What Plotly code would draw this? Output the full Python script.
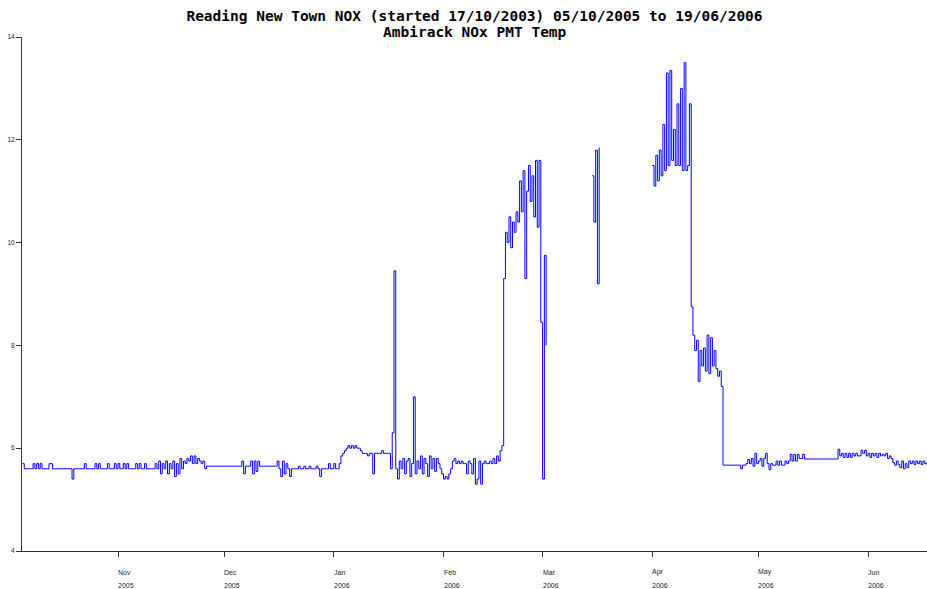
import pandas as pd
import plotly.graph_objects as go

# ---- data: readings every 12 hours, one list per month ----
oct_start = "2005-10-05"
oct_vals = [5.7,5.6, 5.6,5.6, 5.6,5.6, 5.7,5.6, 5.7,5.6, 5.7,5.6, 5.6,5.6, 5.6,5.7, 5.7,5.6,
            5.6,5.6, 5.6,5.6, 5.6,5.6, 5.6,5.6, 5.6,5.6, 5.4,5.6, 5.6,5.6, 5.6,5.6, 5.6,5.7,
            5.6,5.6, 5.6,5.6, 5.6,5.7, 5.6,5.7, 5.6,5.6, 5.6,5.6, 5.7,5.6, 5.6,5.6, 5.7,5.6]
nov_start = "2005-11-01"
nov_vals = [5.7,5.6, 5.6,5.7, 5.6,5.7, 5.6,5.6, 5.6,5.6, 5.7,5.6, 5.7,5.6, 5.6,5.7, 5.6,5.6,
            5.6,5.6, 5.6,5.7, 5.6,5.75, 5.5,5.7, 5.6,5.75, 5.5,5.7, 5.6,5.75, 5.45,5.7, 5.5,5.8,
            5.6,5.75, 5.7,5.8, 5.75,5.85, 5.7,5.85, 5.7,5.8, 5.75,5.7, 5.75,5.6, 5.65,5.65,
            5.65,5.65, 5.65,5.65, 5.65,5.65, 5.65,5.65]
dec_start = "2005-12-01"
dec_vals = [5.65,5.65, 5.65,5.65, 5.65,5.65, 5.65,5.65, 5.65,5.65, 5.75,5.5, 5.65,5.65,
            5.65,5.75, 5.5,5.75, 5.55,5.75, 5.65,5.65, 5.65,5.65, 5.65,5.65, 5.65,5.65,
            5.65,5.65, 5.75,5.6, 5.45,5.75, 5.5,5.7, 5.6,5.45, 5.6,5.6, 5.6,5.6, 5.65,5.6,
            5.6,5.65, 5.6,5.6, 5.65,5.6, 5.6,5.6, 5.65,5.6, 5.45,5.6, 5.6,5.6, 5.6,5.7, 5.6,5.6]
jan_start = "2006-01-01"
jan_vals = [5.7,5.6, 5.6,5.7, 5.85,5.9, 5.95,6.0, 6.05,6.0, 6.05,6.0, 6.05,6.0, 6.0,5.95,
            5.9,5.9, 5.9,5.85, 5.9,5.9, 5.5,5.9, 5.9,5.9, 5.9,5.95, 5.9,5.9, 5.9,5.9,
            5.6,6.3, 9.45,5.6, 5.4,5.75, 5.6,5.8, 5.5,5.75, 5.8,5.45, 5.7,7.0, 5.5,5.75,
            5.6,5.85, 5.5,5.8, 5.7,5.45, 5.85,5.6, 5.8,5.55, 5.8,5.7, 5.6,5.5]
feb_start = "2006-02-01"
feb_vals = [5.4,5.45, 5.4,5.5, 5.6,5.75, 5.8,5.7, 5.75,5.7, 5.75,5.7, 5.7,5.5, 5.75,5.7,
            5.5,5.8, 5.3,5.4, 5.75,5.3, 5.7,5.75, 5.7,5.7, 5.75,5.7, 5.8,5.7, 5.85,5.75,
            5.95,6.05, 9.3,10.2, 10.0,10.5, 9.9,10.4, 10.2,10.6, 10.4,11.2, 10.6,11.4,
            9.3,11.0, 11.5,10.8, 11.3,10.5, 11.6,10.3, 11.6,8.45]
mar_start = "2006-03-01"
mar_vals = [5.4,9.75, 8.0,None,
            None,None, None,None, None,None, None,None, None,None, None,None,
            None,None, None,None, None,None, None,None, None,None, None,None,
            11.3,10.4, 11.8,9.2, 11.85,None,
            None,None, None,None, None,None, None,None, None,None, None,None, None,None,
            None,None, None,None, None,None, None,None, None,None, None,None, None,None]
apr_start = "2006-04-01"
apr_vals = [11.5,11.1, 11.7,11.2, 11.8,11.3, 12.3,11.4, 13.3,11.5, 13.35,11.6, 12.2,11.5,
            12.7,11.5, 13.0,11.4, 13.5,11.4, 11.5,12.7, 8.75,8.2, 7.9,8.1, 7.3,7.9,
            7.6,7.95, 7.5,8.2, 7.45,8.15, 7.6,7.9, 7.55,7.4, 7.5,7.2, 5.67,5.67,
            5.67,5.67, 5.67,5.67, 5.67,5.67, 5.67,5.67, 5.6,5.67, 5.67,5.7, 5.78,5.7,
            5.8,5.65, 5.9,5.7]
may_start = "2006-05-01"
may_vals = [5.75,5.8, 5.65,5.8, 5.9,5.7, 5.58,5.7, 5.67,5.67, 5.75,5.67, 5.75,5.67,
            5.67,5.75, 5.7,5.75, 5.88,5.75, 5.88,5.75, 5.88,5.8, 5.8,5.88,
            5.79,5.79, 5.79,5.79, 5.79,5.79, 5.79,5.79, 5.79,5.79, 5.79,5.79, 5.79,5.79,
            5.79,5.79, 5.79,5.79, 5.79,5.98, 5.85,5.9, 5.82,5.9, 5.82,5.9, 5.82,5.9,
            5.85,5.9, 5.85,5.85, 5.96,5.9, 5.96,5.85]
jun_start = "2006-06-01"
jun_vals = [5.9,5.82, 5.9,5.85, 5.9,5.82, 5.9,5.85, 5.88,5.85, 5.9,5.8, 5.85,5.8,
            5.72,5.67, 5.75,5.68, 5.62,5.75, 5.6,5.7, 5.62,5.75, 5.7,5.75, 5.68,5.75,
            5.7,5.75, 5.68,5.75, 5.7,5.72, 5.7,5.7, 5.7]

month_ticks = ["2005-11-01", "2005-12-01", "2006-01-01", "2006-02-01",
               "2006-03-01", "2006-04-01", "2006-05-01", "2006-06-01"]
month_labels = ["Nov", "Dec", "Jan", "Feb", "Mar", "Apr", "May", "Jun"]
year_labels = ["2005", "2005", "2006", "2006", "2006", "2006", "2006", "2006"]
y_ticks = [4, 6, 8, 10, 12, 14]

title_line1 = "Reading New Town NOX (started 17/10/2003) 05/10/2005 to 19/06/2006"
title_line2 = "Ambirack NOx PMT Temp"

# ---- build series ----
blocks = [(oct_start, oct_vals), (nov_start, nov_vals), (dec_start, dec_vals),
          (jan_start, jan_vals), (feb_start, feb_vals), (mar_start, mar_vals),
          (apr_start, apr_vals), (may_start, may_vals), (jun_start, jun_vals)]
times, values = [], []
for start, vals in blocks:
    times.extend(pd.date_range(start, periods=len(vals), freq="12h"))
    values.extend(vals)

fig = go.Figure()
fig.add_trace(go.Scatter(
    x=times, y=values, mode="lines",
    line=dict(color="#0000ff", width=1, shape="hv"),
    connectgaps=False, hoverinfo="x+y", showlegend=False,
))

small_font = dict(family="Liberation Sans", size=7, color="#222")
annotations = []
for t, m, yl in zip(month_ticks, month_labels, year_labels):
    annotations.append(dict(x=t, y=0, xref="x", yref="paper", yshift=-21, xshift=-2,
                            text=m, showarrow=False, xanchor="left", yanchor="middle",
                            font=small_font))
    annotations.append(dict(x=t, y=0, xref="x", yref="paper", yshift=-34, xshift=-2,
                            text=yl, showarrow=False, xanchor="left", yanchor="middle",
                            font=small_font))
annotations.append(dict(x=0.5, y=1, xref="paper", yref="paper", yshift=5,
                        text="<b>" + title_line2 + "</b>", showarrow=False,
                        xanchor="center", yanchor="middle",
                        font=dict(family="DejaVu Sans Mono", size=14.5, color="black")))

fig.update_layout(
    width=927, height=589,
    margin=dict(l=22, r=0, t=37, b=38, autoexpand=False),
    paper_bgcolor="white", plot_bgcolor="white",
    title=dict(text="<b>" + title_line1 + "</b>",
               x=0.5, xref="paper", xanchor="center",
               y=1 - 16 / 589, yref="container", yanchor="middle",
               font=dict(family="DejaVu Sans Mono", size=14.5, color="black")),
    annotations=annotations,
    xaxis=dict(type="date", range=["2005-10-04 20:40", "2006-06-17 15:36"],
               tickvals=month_ticks, showticklabels=False,
               ticks="outside", ticklen=5, tickcolor="#333", tickwidth=1,
               showline=True, linecolor="#333", linewidth=1,
               showgrid=False, zeroline=False),
    yaxis=dict(range=[4, 14], tickvals=y_ticks,
               ticks="outside", ticklen=5, tickcolor="#333", tickwidth=1,
               tickfont=dict(family="Liberation Sans", size=6.5, color="#222"),
               showline=True, linecolor="#333", linewidth=1,
               showgrid=False, zeroline=False),
)

fig.write_html(
    "out.html",
    config={"displayModeBar": False},
    post_script="document.body.style.margin='0px';document.body.style.overflow='hidden';",
)
